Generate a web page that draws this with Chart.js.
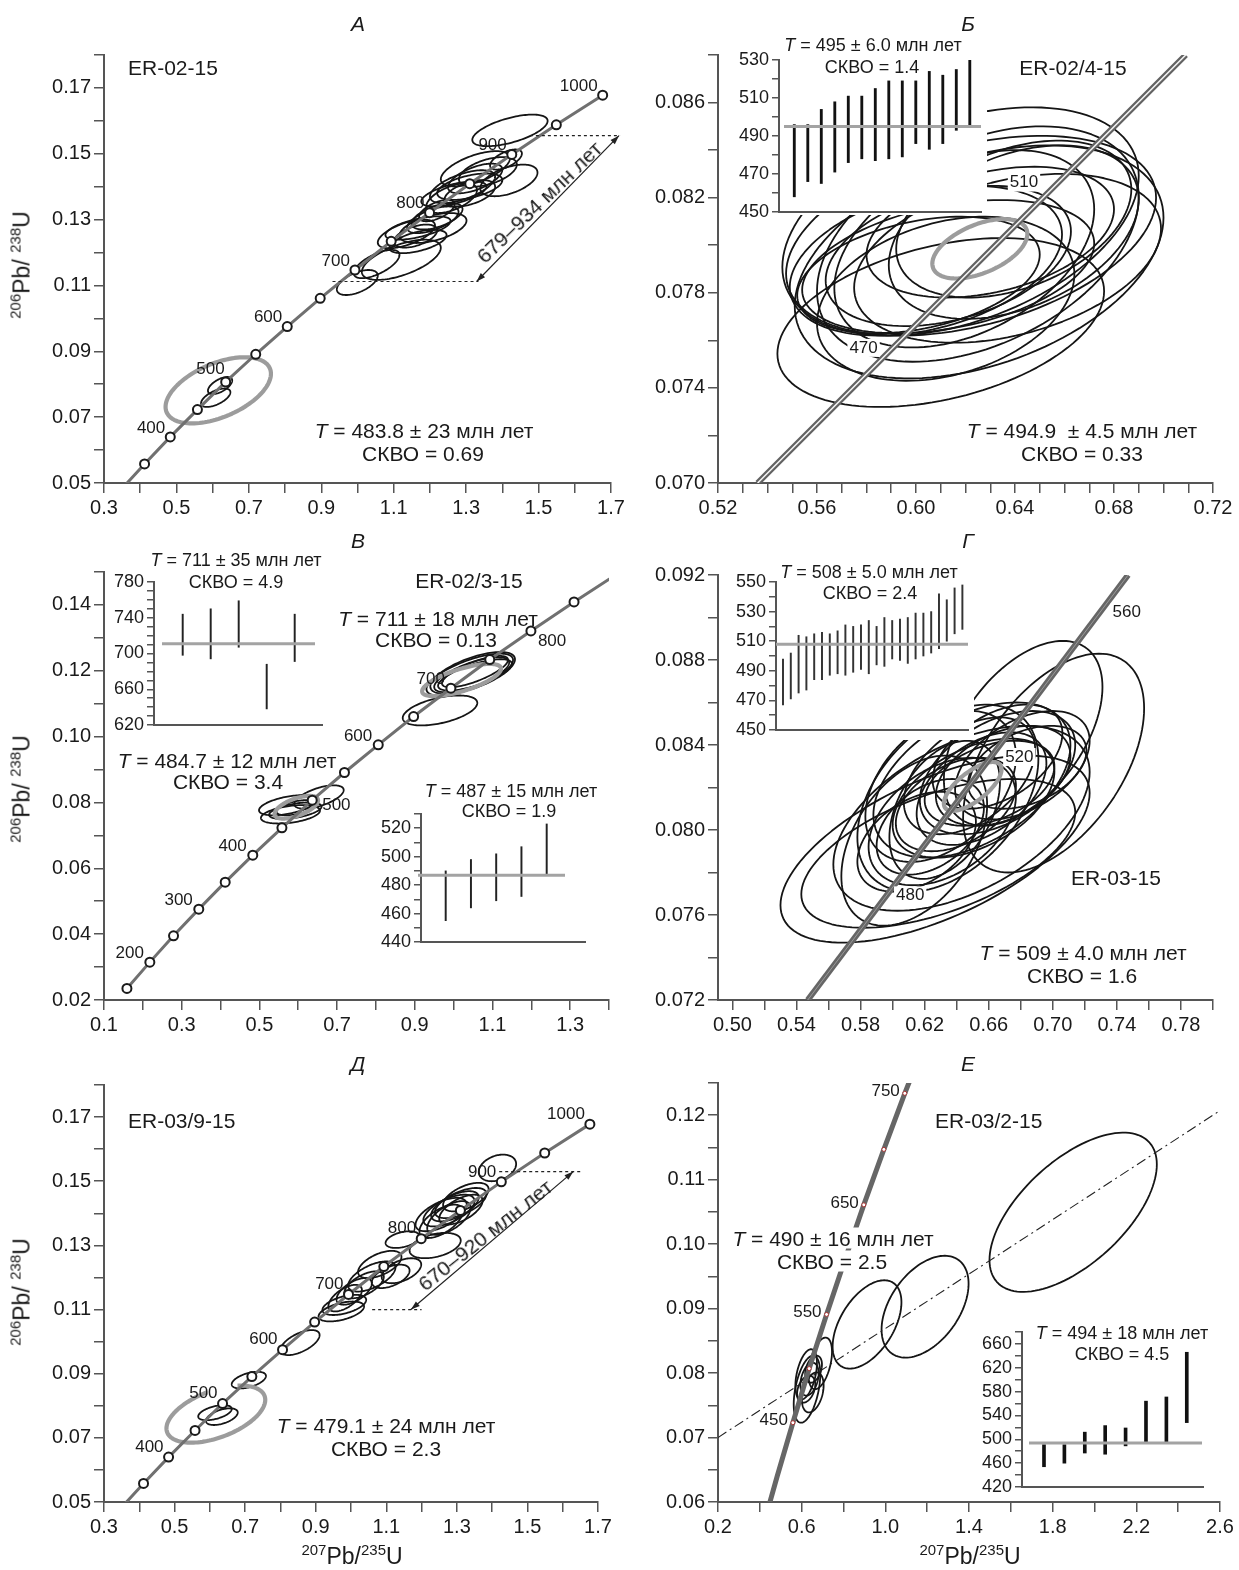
<!DOCTYPE html>
<html lang="ru">
<head>
<meta charset="utf-8">
<title>U-Pb concordia diagrams</title>
<script src="https://cdn.jsdelivr.net/npm/chart.js@4.4.1/dist/chart.umd.min.js"></script>
<style>
  html, body { margin: 0; padding: 0; background: #fff; }
  body { position: relative; width: 1239px; height: 1570px; overflow: hidden;
         font-family: "Liberation Sans", Arial, Helvetica, sans-serif; color: #1a1a1a; }
  canvas { position: absolute; }
  .lbl { position: absolute; white-space: pre; line-height: 1; font-size: 21px; z-index: 5;
         transform: translate(-50%, -50%); }
  .lbl.left { transform: translate(0, -50%); }
  .lbl.small { font-size: 18px; }
  .lbl.ttl { font-style: italic; font-size: 21px; }
  .lbl.bg { background: #fff; }
  .lbl.ax { font-size: 23px; }
  .lbl.ax sup { font-size: 15px; vertical-align: baseline; position: relative; top: -9px; }
</style>
</head>
<body>
<script>
// ---- concordia reference marks (age Ma, 207Pb/235U, 206Pb/238U) ----
const concAge = [150, 200, 250, 300, 350, 400, 450, 500, 550, 600, 650, 700, 750, 800, 850, 900, 950, 1000];
const concX = [0.159, 0.218, 0.279, 0.344, 0.412, 0.483, 0.558, 0.636, 0.719, 0.806, 0.897, 0.993, 1.093, 1.199, 1.310, 1.426, 1.549, 1.677];
const concY = [0.0235, 0.0315, 0.0395, 0.0476, 0.0558, 0.0640, 0.0723, 0.0807, 0.0891, 0.0975, 0.1061, 0.1147, 0.1234, 0.1321, 0.1409, 0.1498, 0.1588, 0.1678];
const fineAge = [470, 480, 510, 520, 560];
const fineX = [0.589, 0.604, 0.653, 0.669, 0.736];
const fineY = [0.0756, 0.0773, 0.0823, 0.0840, 0.0908];

// concordia segments as read on the zoomed plots B and G
const lineBX = [0.536, 0.709], lineBY = [0.070, 0.088];
const lineGX = [0.547, 0.747], lineGY = [0.072, 0.092];
// dash-dot discordia on plot E
const discEX = [0.2, 2.604], discEY = [0.070, 0.1208];

// labelled ages
const labA = [400, 500, 600, 700, 800, 900, 1000];
const labB = [470, 510];
const labV = [200, 300, 400, 500, 600, 700, 800];
const labG = [480, 520, 560];
const labD = [400, 500, 600, 700, 800, 900, 1000];
const labE = [450, 550, 650, 750];

// error ellipses: [x min, x max, y min, y max, correlation]
const ellA = [
  [0.943, 1.056, 0.1071, 0.1147, 0.55], [1.012, 1.230, 0.1117, 0.1239, 0.6], [0.990, 1.116, 0.1122, 0.1208, 0.65],
  [1.056, 1.214, 0.1213, 0.1300, 0.6], [1.116, 1.301, 0.1229, 0.1320, 0.5], [1.077, 1.257, 0.1239, 0.1310, 0.6],
  [1.088, 1.246, 0.1198, 0.1269, 0.55], [1.100, 1.220, 0.1215, 0.1285, 0.5], [1.137, 1.279, 0.1259, 0.1340, 0.6],
  [1.170, 1.268, 0.1295, 0.1360, 0.6], [1.176, 1.356, 0.1340, 0.1416, 0.6], [1.230, 1.421, 0.1401, 0.1508, 0.6],
  [1.339, 1.497, 0.1371, 0.1467, 0.5], [1.366, 1.454, 0.1452, 0.1513, 0.6], [1.317, 1.525, 0.1523, 0.1619, 0.6],
  [1.200, 1.380, 0.1350, 0.1450, 0.6], [1.220, 1.400, 0.1360, 0.1440, 0.5], [1.250, 1.400, 0.1380, 0.1470, 0.6],
  [1.190, 1.330, 0.1320, 0.1410, 0.55], [1.240, 1.380, 0.1340, 0.1420, 0.5], [1.280, 1.440, 0.1400, 0.1490, 0.5],
  [1.150, 1.290, 0.1270, 0.1350, 0.55], [0.587, 0.654, 0.0770, 0.0822, 0.6], [0.568, 0.649, 0.0731, 0.0787, 0.6]
];
const grayA = [[0.470, 0.761, 0.0681, 0.0882, 0.5]];

const ellB = [
  [0.544, 0.676, 0.0732, 0.0803, 0.37], [0.546, 0.690, 0.0762, 0.0858, 0.4], [0.5475, 0.697, 0.0762, 0.0846, 0.38],
  [0.551, 0.700, 0.0744, 0.0842, 0.38], [0.560, 0.690, 0.0751, 0.0850, 0.4], [0.567, 0.672, 0.0757, 0.0840, 0.4],
  [0.549, 0.659, 0.0762, 0.0825, 0.35], [0.554, 0.672, 0.0763, 0.0819, 0.35], [0.560, 0.664, 0.0743, 0.0812, 0.3],
  [0.589, 0.690, 0.0769, 0.0842, 0.38], [0.575, 0.699, 0.0759, 0.0830, 0.35], [0.580, 0.680, 0.0778, 0.0833, 0.35],
  [0.5635, 0.6626, 0.0766, 0.0825, 0.35], [0.592, 0.687, 0.0778, 0.0844, 0.38], [0.552, 0.650, 0.0763, 0.0812, 0.35]
];
const grayB = [[0.6066, 0.645, 0.0786, 0.0811, 0.5]];

const ellV = [
  [0.499, 0.646, 0.0761, 0.0822, 0.5], [0.504, 0.656, 0.0736, 0.0792, 0.4], [0.590, 0.717, 0.0781, 0.0852, 0.6],
  [0.544, 0.646, 0.0761, 0.0807, 0.5], [0.525, 0.660, 0.0750, 0.0800, 0.5], [0.869, 1.061, 0.1034, 0.1125, 0.5],
  [0.930, 1.153, 0.1125, 0.1252, 0.7], [0.950, 1.143, 0.1135, 0.1241, 0.7], [0.940, 1.158, 0.1130, 0.1257, 0.65],
  [0.960, 1.150, 0.1140, 0.1235, 0.7], [0.970, 1.140, 0.1150, 0.1245, 0.75]
];
const grayV = [[0.539, 0.651, 0.0751, 0.0820, 0.6], [0.919, 1.122, 0.1123, 0.1221, 0.7]];

const ellG = [
  [0.530, 0.723, 0.0747, 0.0835, 0.6], [0.543, 0.714, 0.0754, 0.0824, 0.55], [0.644, 0.757, 0.0780, 0.0883, 0.5],
  [0.632, 0.731, 0.0802, 0.0889, 0.5], [0.563, 0.723, 0.0762, 0.0849, 0.5], [0.578, 0.691, 0.0771, 0.0859, 0.42],
  [0.583, 0.677, 0.0785, 0.0856, 0.4], [0.588, 0.711, 0.0787, 0.0860, 0.45], [0.568, 0.659, 0.0755, 0.0835, 0.42],
  [0.600, 0.701, 0.0787, 0.0843, 0.45], [0.617, 0.714, 0.0798, 0.0856, 0.45], [0.627, 0.711, 0.0802, 0.0849, 0.4],
  [0.598, 0.667, 0.0777, 0.0842, 0.4], [0.602, 0.677, 0.0790, 0.0834, 0.4], [0.615, 0.696, 0.0793, 0.0846, 0.45],
  [0.578, 0.652, 0.0771, 0.0818, 0.4], [0.639, 0.723, 0.0805, 0.0856, 0.45], [0.625, 0.706, 0.0810, 0.0859, 0.45],
  [0.647, 0.721, 0.0810, 0.0849, 0.4], [0.590, 0.657, 0.0779, 0.0824, 0.4], [0.607, 0.689, 0.0798, 0.0853, 0.45],
  [0.620, 0.701, 0.0802, 0.0842, 0.4], [0.585, 0.677, 0.0774, 0.0834, 0.4]
];
const grayG = [[0.632, 0.668, 0.0809, 0.0832, 0.7]];

const ellD = [
  [0.567, 0.662, 0.0755, 0.0802, 0.5], [0.589, 0.679, 0.0740, 0.0792, 0.5], [0.662, 0.759, 0.0854, 0.0906, 0.5],
  [0.800, 0.911, 0.0958, 0.1036, 0.6], [0.908, 1.037, 0.1063, 0.1125, 0.5], [0.919, 1.043, 0.1083, 0.1146, 0.5],
  [0.936, 1.031, 0.1094, 0.1177, 0.6], [0.959, 1.059, 0.1115, 0.1198, 0.6], [0.981, 1.093, 0.1135, 0.1219, 0.6],
  [0.992, 1.126, 0.1156, 0.1250, 0.6], [1.020, 1.143, 0.1198, 0.1283, 0.55], [1.087, 1.199, 0.1182, 0.1260, 0.5],
  [1.059, 1.166, 0.1167, 0.1240, 0.5], [1.166, 1.311, 0.1260, 0.1339, 0.4], [1.098, 1.194, 0.1292, 0.1344, 0.4],
  [1.183, 1.328, 0.1344, 0.1448, 0.6], [1.205, 1.350, 0.1359, 0.1458, 0.6], [1.227, 1.362, 0.1375, 0.1469, 0.6],
  [1.238, 1.384, 0.1385, 0.1479, 0.6], [1.216, 1.339, 0.1333, 0.1438, 0.6], [1.250, 1.373, 0.1365, 0.1458, 0.6],
  [1.261, 1.390, 0.1406, 0.1495, 0.55], [1.194, 1.317, 0.1323, 0.1427, 0.6], [1.362, 1.468, 0.1500, 0.1583, 0.3]
];
const grayD = [[0.477, 0.757, 0.0685, 0.0863, 0.5]];

const ellE = [
  [1.498, 2.298, 0.0926, 0.1173, 0.6], [0.982, 1.398, 0.0824, 0.0982, 0.45], [0.748, 1.077, 0.0807, 0.0944, 0.5],
  [0.633, 0.745, 0.0775, 0.0855, 0.45], [0.562, 0.689, 0.0723, 0.0827, 0.45], [0.570, 0.673, 0.0759, 0.0837, 0.45],
  [0.601, 0.705, 0.0739, 0.0801, 0.35], [0.594, 0.681, 0.0765, 0.0816, 0.35], [0.578, 0.665, 0.0754, 0.0796, 0.35],
  [0.617, 0.697, 0.0785, 0.0827, 0.35]
];

// age-span brackets on A and D: dotted levels [x0, x1, y] and the arrow [x0, y0, x1, y1]
const guideA = [[0.931, 1.334, 0.1112], [1.476, 1.725, 0.1555]];
const arrowA = [1.329, 0.1112, 1.722, 0.1555];
const guideD = [[1.06, 1.20, 0.1100], [1.42, 1.655, 0.1530]];
const arrowD = [1.17, 0.1100, 1.63, 0.1530];

// weighted-mean insets: [low, high] ages per grain, Ma
const barsB = [[458, 496], [466, 496], [465, 504], [471, 508], [476, 511], [478, 511], [477, 515],
               [478, 519], [479, 519], [486, 519], [483, 524], [486, 522], [493, 525], [495, 530]];
const barsV1 = [[698, 744], [694, 750], [707, 759], [638, 688], [691, 744]];
const barsV2 = [[455, 490], [464, 498], [469, 502], [472, 507], [487, 523]];
const barsG = [[467, 498], [471, 502], [475, 514], [477, 513], [484, 515], [484, 516], [487, 515], [488, 517],
               [487, 521], [489, 520], [491, 521], [488, 524], [494, 520], [493, 526], [498, 524], [497, 525],
               [495, 526], [498, 529], [500, 529], [502, 530], [505, 542], [510, 538], [515, 546], [518, 548]];
const barsE = [[454, 491], [460, 491], [477, 512], [475, 523], [489, 519], [496, 564], [495, 571], [528, 646]];
const meanB = 495, meanV1 = 711, meanV2 = 487, meanG = 508, meanE = 494;

// ---------------------------------------------------------------
const FONT = '"Liberation Sans", Arial, Helvetica, sans-serif';
Chart.defaults.font.family = FONT;
Chart.defaults.color = '#1a1a1a';

function pts(xs, ys) { return xs.map((v, i) => ({ x: v, y: ys[i] })); }

function axis(min, max, tStart, tStep, lStart, lStep, dec, size, tickLen) {
  const vals = [];
  for (let i = 0; ; i++) {
    const v = +(tStart + i * tStep).toFixed(6);
    if (v > max + 1e-9) break;
    vals.push(v);
  }
  return {
    type: 'linear', min, max, offset: false,
    afterBuildTicks: s => { s.ticks = vals.map(v => ({ value: v })); },
    ticks: {
      autoSkip: false, maxRotation: 0, minRotation: 0, padding: 3, color: '#1a1a1a', font: { size },
      callback: v => {
        const k = (v - lStart) / lStep;
        return Math.abs(k - Math.round(k)) < 1e-6 ? v.toFixed(dec) : '';
      }
    },
    grid: { drawOnChartArea: false, drawTicks: true, tickLength: tickLen, color: '#555', lineWidth: 1.5 },
    border: { display: true, color: '#555', width: 2 }
  };
}

function addCanvas(l, t, r, b) {
  const cv = document.createElement('canvas');
  cv.width = r - l; cv.height = b - t;
  cv.style.left = l + 'px'; cv.style.top = t + 'px';
  cv.style.width = (r - l) + 'px'; cv.style.height = (b - t) + 'px';
  document.body.appendChild(cv);
  return cv;
}

function ellipse(ctx, sx, sy, e, arc) {
  const [x0, x1, y0, y1, r] = e;
  const cx = (x0 + x1) / 2, cy = (y0 + y1) / 2, ax = (x1 - x0) / 2, ay = (y1 - y0) / 2;
  const q = Math.sqrt(1 - r * r);
  const a = arc ? arc[0] : 0, b = arc ? arc[1] : 2 * Math.PI;
  ctx.beginPath();
  for (let i = 0; i <= 120; i++) {
    const t = a + (b - a) * i / 120;
    const px = sx.getPixelForValue(cx + ax * Math.cos(t));
    const py = sy.getPixelForValue(cy + ay * (r * Math.cos(t) + q * Math.sin(t)));
    if (i) ctx.lineTo(px, py); else ctx.moveTo(px, py);
  }
  if (!arc) ctx.closePath();
  ctx.stroke();
}

function head(ctx, x, y, ang) {
  ctx.beginPath();
  ctx.moveTo(x, y);
  ctx.lineTo(x - 9 * Math.cos(ang) + 3 * Math.sin(ang), y - 9 * Math.sin(ang) - 3 * Math.cos(ang));
  ctx.lineTo(x - 9 * Math.cos(ang) - 3 * Math.sin(ang), y - 9 * Math.sin(ang) + 3 * Math.cos(ang));
  ctx.closePath();
  ctx.fill();
}

function overlay(p) {
  return {
    id: 'overlay',
    beforeDatasetsDraw(chart) {
      const { ctx, chartArea: a, scales: { x, y } } = chart;
      ctx.save();
      ctx.beginPath(); ctx.rect(a.left, a.top, a.right - a.left, a.bottom - a.top); ctx.clip();
      ctx.lineJoin = 'round';
      ctx.strokeStyle = '#151515'; ctx.lineWidth = 1.8;
      (p.ell || []).forEach(e => ellipse(ctx, x, y, e));
      ctx.strokeStyle = '#9c9c9c'; ctx.lineWidth = 4.2;
      (p.gray || []).forEach(e => ellipse(ctx, x, y, e, p.grayArc));
      ctx.restore();
    },
    afterDatasetsDraw(chart) {
      const { ctx, scales: { x, y } } = chart;
      ctx.save();
      if (p.guides) {
        ctx.strokeStyle = '#222'; ctx.lineWidth = 1.2; ctx.setLineDash([3, 3]);
        p.guides.forEach(([x0, x1, yy]) => {
          ctx.beginPath();
          ctx.moveTo(x.getPixelForValue(x0), y.getPixelForValue(yy));
          ctx.lineTo(x.getPixelForValue(x1), y.getPixelForValue(yy));
          ctx.stroke();
        });
        ctx.setLineDash([]);
      }
      if (p.arrow) {
        const [ax0, ay0, ax1, ay1] = p.arrow;
        const X0 = x.getPixelForValue(ax0), Y0 = y.getPixelForValue(ay0);
        const X1 = x.getPixelForValue(ax1), Y1 = y.getPixelForValue(ay1);
        const ang = Math.atan2(Y1 - Y0, X1 - X0);
        ctx.strokeStyle = '#222'; ctx.fillStyle = '#222'; ctx.lineWidth = 1.2;
        ctx.beginPath(); ctx.moveTo(X0, Y0); ctx.lineTo(X1, Y1); ctx.stroke();
        head(ctx, X1, Y1, ang); head(ctx, X0, Y0, ang + Math.PI);
      }
      if (p.labels) {
        ctx.font = '17px ' + FONT;
        ctx.textBaseline = 'middle';
        p.labels.forEach(age => {
          const k = p.srcAge.indexOf(age);
          const px = x.getPixelForValue(p.srcX[k]), py = y.getPixelForValue(p.srcY[k]);
          const [dx, dy, al] = p.labOff[age] || p.labOff.def;
          const tx = px + dx, ty = py + dy, txt = String(age);
          const w = ctx.measureText(txt).width;
          if (p.labBox) {
            ctx.fillStyle = '#fff';
            ctx.fillRect(al === 'right' ? tx - w - 2 : tx - 2, ty - 9, w + 4, 18);
          }
          ctx.fillStyle = '#1a1a1a'; ctx.textAlign = al;
          ctx.fillText(txt, tx, ty);
        });
      }
      ctx.restore();
    }
  };
}

function panel(p) {
  const [L, R, T, B] = p.area;
  const bl = Math.max(0, L - 100), bt = T - 30, br = Math.min(1239, R + 34), bb = B + 47;
  const cv = addCanvas(bl, bt, br, bb);
  const ds = [];
  if (p.marks) ds.push({ data: p.marks, pointRadius: p.markR, pointBackgroundColor: '#fff',
                         pointBorderColor: p.markC, pointBorderWidth: p.markW, order: 0 });
  if (p.core) ds.push({ data: p.line, showLine: true, borderColor: p.core[0], borderWidth: p.core[1], pointRadius: 0, order: 1 });
  ds.push({ data: p.line, showLine: true, borderColor: p.lineC, borderWidth: p.lineW, pointRadius: 0, order: 2 });
  if (p.dash) ds.push({ data: p.dash, showLine: true, borderColor: '#222', borderWidth: 1.1,
                        borderDash: [10, 4, 2, 4], pointRadius: 0, order: 3 });
  const xs = Object.assign(p.x, { afterFit: s => { s.height = 40; } });
  const ys = Object.assign(p.y, { afterFit: s => { s.width = 70; } });
  new Chart(cv, {
    type: 'scatter',
    data: { datasets: ds },
    options: {
      responsive: false, animation: false, devicePixelRatio: 1, events: [],
      layout: { padding: { left: L - bl - 70, right: br - R, top: T - bt, bottom: bb - B - 40 } },
      scales: { x: xs, y: ys },
      plugins: { legend: { display: false }, tooltip: { enabled: false } }
    },
    plugins: [overlay(p)]
  });
}

function inset(q) {
  const [L, R, T, B] = q.area;
  const bl = L - 48, bt = T - 16, br = R + 6, bb = B + 16;
  const cv = addCanvas(bl, bt, br, bb);
  const ys = Object.assign(q.y, { afterFit: s => { s.width = 43; } });
  new Chart(cv, {
    type: 'bar',
    data: { datasets: [{ data: q.bars.map((b, i) => ({ x: i + 1, y: b })), backgroundColor: q.color,
                         barThickness: q.bw, borderWidth: 0 }] },
    options: {
      responsive: false, animation: false, devicePixelRatio: 1, events: [],
      layout: { padding: { left: 5, right: 6, top: 16, bottom: 16 } },
      scales: {
        x: { type: 'linear', min: q.xr[0], max: q.xr[1], offset: false, ticks: { display: false },
             grid: { display: false }, border: { display: true, color: '#555', width: 2 },
             afterFit: s => { s.height = 0; } },
        y: ys
      },
      plugins: { legend: { display: false }, tooltip: { enabled: false } }
    },
    plugins: [{
      id: 'insetDeco',
      beforeDraw(chart) {
        if (!q.white) return;
        const c = chart.ctx;
        c.save(); c.fillStyle = '#fff';
        c.fillRect(q.white[0] - bl, q.white[1] - bt, q.white[2] - q.white[0], q.white[3] - q.white[1]);
        c.restore();
      },
      afterDatasetsDraw(chart) {
        const c = chart.ctx, yy = chart.scales.y.getPixelForValue(q.mean);
        c.save(); c.strokeStyle = '#a3a3a3'; c.lineWidth = 3;
        c.beginPath(); c.moveTo(q.line[0] - bl, yy); c.lineTo(q.line[1] - bl, yy); c.stroke();
        c.restore();
      }
    }]
  });
}

const concPts = pts(concX, concY);
const within = (lo, hi) => concPts.filter((_, i) => concAge[i] >= lo && concAge[i] <= hi);

// ---- main concordia panels ----
panel({ area: [104, 611, 55, 483],
  x: axis(0.3, 1.7, 0.3, 0.1, 0.3, 0.2, 1, 20, 10), y: axis(0.05, 0.18, 0.05, 0.01, 0.05, 0.02, 2, 20, 10),
  line: concPts, lineC: '#707070', lineW: 3, marks: within(350, 1000), markR: 4.5, markC: '#1a1a1a', markW: 2,
  ell: ellA, gray: grayA, guides: guideA, arrow: arrowA,
  labels: labA, srcAge: concAge, srcX: concX, srcY: concY, labOff: { def: [-5, -9, 'right'], 500: [-1, -13, 'right'] } });

panel({ area: [718, 1213, 55, 483],
  x: axis(0.52, 0.72, 0.52, 0.01, 0.52, 0.04, 2, 20, 10), y: axis(0.070, 0.088, 0.070, 0.002, 0.070, 0.004, 3, 20, 10),
  line: pts(lineBX, lineBY), lineC: '#626262', lineW: 6, core: ['#f2f2f2', 1.6],
  ell: ellB, gray: grayB,
  labels: labB, srcAge: fineAge, srcX: fineX, srcY: fineY, labBox: true,
  labOff: { def: [-8, -6, 'right'], 470: [-11, -2, 'right'], 510: [-9, -8, 'right'] } });

panel({ area: [104, 609, 572, 1000],
  x: axis(0.1, 1.4, 0.1, 0.1, 0.1, 0.2, 1, 20, 10), y: axis(0.02, 0.15, 0.02, 0.01, 0.02, 0.02, 2, 20, 10),
  line: concPts, lineC: '#707070', lineW: 3, marks: within(150, 850), markR: 4.5, markC: '#1a1a1a', markW: 2,
  ell: ellV, gray: grayV,
  labels: labV, srcAge: concAge, srcX: concX, srcY: concY,
  labOff: { def: [-6, -9, 'right'], 500: [10, 5, 'left'], 800: [7, 10, 'left'] } });

panel({ area: [718, 1213, 575, 1000],
  x: axis(0.491, 0.80, 0.50, 0.02, 0.50, 0.04, 2, 20, 10), y: axis(0.072, 0.092, 0.072, 0.002, 0.072, 0.004, 3, 20, 10),
  line: pts(lineGX, lineGY), lineC: '#666', lineW: 6, core: ['#9a9a9a', 1],
  ell: ellG, gray: grayG,
  labels: labG, srcAge: fineAge, srcX: fineX, srcY: fineY, labBox: true,
  labOff: { def: [2, 12, 'left'], 480: [-3, 8, 'left'], 520: [2, 12, 'left'], 560: [2, 12, 'left'] } });

panel({ area: [104, 598, 1085, 1502],
  x: axis(0.3, 1.7, 0.3, 0.1, 0.3, 0.2, 1, 20, 10), y: axis(0.05, 0.18, 0.05, 0.01, 0.05, 0.02, 2, 20, 10),
  line: concPts, lineC: '#707070', lineW: 3, marks: within(350, 1000), markR: 4.5, markC: '#1a1a1a', markW: 2,
  ell: ellD, gray: grayD, grayArc: [1.75, 7.40], guides: guideD, arrow: arrowD,
  labels: labD, srcAge: concAge, srcX: concX, srcY: concY, labOff: { def: [-5, -10, 'right'] } });

panel({ area: [718, 1220, 1083, 1502],
  x: axis(0.2, 2.6, 0.2, 0.2, 0.2, 0.4, 1, 20, 10), y: axis(0.06, 0.125, 0.06, 0.005, 0.06, 0.01, 2, 20, 10),
  line: concPts, lineC: '#666', lineW: 5, marks: within(450, 750), markR: 2, markC: '#a33', markW: 1,
  dash: pts(discEX, discEY), ell: ellE,
  labels: labE, srcAge: concAge, srcX: concX, srcY: concY, labOff: { def: [-5, -2, 'right'] } });

// ---- weighted-mean insets ----
inset({ area: [779, 981, 60, 212], xr: [-0.133, 14.83], bars: barsB, mean: meanB, color: '#111', bw: 2.2,
  y: axis(450, 530, 450, 10, 450, 20, 0, 18, 7), line: [784, 981], white: [730, 28, 988, 215] });
inset({ area: [154, 322, 582, 725], xr: [-0.025, 5.975], bars: barsV1, mean: meanV1, color: '#222', bw: 1.3,
  y: axis(620, 780, 620, 10, 620, 40, 0, 18, 7), line: [162, 315] });
inset({ area: [421, 585, 814, 942], xr: [0.022, 6.517], bars: barsV2, mean: meanV2, color: '#222', bw: 1.3,
  y: axis(440, 530, 440, 10, 440, 20, 0, 18, 7), line: [418, 565] });
inset({ area: [776, 968, 582, 730], xr: [0.103, 24.72], bars: barsG, mean: meanG, color: '#333', bw: 1.3,
  y: axis(450, 550, 450, 10, 450, 20, 0, 18, 7), line: [776, 968], white: [730, 560, 976, 740] });
inset({ area: [1022, 1203, 1332, 1487], xr: [-0.078, 8.795], bars: barsE, mean: meanE, color: '#111', bw: 3,
  y: axis(420, 680, 420, 20, 420, 40, 0, 18, 7), line: [1029, 1202] });

// ---- text annotations ----
const T = '<i>T</i>';
const notes = [
  [358, 23, 'А', 'ttl'], [968, 23, 'Б', 'ttl'], [358, 540, 'В', 'ttl'],
  [968, 540, 'Г', 'ttl'], [358, 1063, 'Д', 'ttl'], [968, 1063, 'Е', 'ttl'],
  [128, 67, 'ER-02-15', 'left'], [1073, 67, 'ER-02/4-15', ''], [469, 580, 'ER-02/3-15', ''],
  [1116, 877, 'ER-03-15', ''], [128, 1120, 'ER-03/9-15', 'left'], [935, 1120, 'ER-03/2-15', 'left'],
  [424, 430, T + ' = 483.8 ± 23 млн лет', ''], [423, 453, 'СКВО = 0.69', ''],
  [873, 45, T + ' = 495 ± 6.0 млн лет', 'small'], [872, 67, 'СКВО = 1.4', 'small'],
  [1082, 430, T + ' = 494.9  ± 4.5 млн лет', ''], [1082, 453, 'СКВО = 0.33', ''],
  [236, 560, T + ' = 711 ± 35 млн лет', 'small'], [236, 582, 'СКВО = 4.9', 'small'],
  [438, 618, T + ' = 711 ± 18 млн лет', ''], [436, 639, 'СКВО = 0.13', ''],
  [227, 760, T + ' = 484.7 ± 12 млн лет', ''], [228, 781, 'СКВО = 3.4', ''],
  [511, 791, T + ' = 487 ± 15 млн лет', 'small'], [509, 811, 'СКВО = 1.9', 'small'],
  [869, 572, T + ' = 508 ± 5.0 млн лет', 'small'], [870, 593, 'СКВО = 2.4', 'small'],
  [1083, 952, T + ' = 509 ± 4.0 млн лет', ''], [1082, 975, 'СКВО = 1.6', ''],
  [386, 1425, T + ' = 479.1 ± 24 млн лет', ''], [386, 1448, 'СКВО = 2.3', ''],
  [833, 1238, T + ' = 490 ± 16 млн лет', 'bg'], [832, 1261, 'СКВО = 2.5', 'bg'],
  [1122, 1333, T + ' = 494 ± 18 млн лет', 'small'], [1122, 1354, 'СКВО = 4.5', 'small'],
  [539, 202, '679–934 млн лет', '', -44], [485, 1235, '670–920 млн лет', '', -38.5],
  [22, 265, '<sup>206</sup>Pb/ <sup>238</sup>U', 'ax', -90], [22, 789, '<sup>206</sup>Pb/ <sup>238</sup>U', 'ax', -90],
  [22, 1292, '<sup>206</sup>Pb/ <sup>238</sup>U', 'ax', -90],
  [352, 1556, '<sup>207</sup>Pb/<sup>235</sup>U', 'ax'], [970, 1556, '<sup>207</sup>Pb/<sup>235</sup>U', 'ax']
];
notes.forEach(([x, y, html, cls, rot]) => {
  const d = document.createElement('div');
  d.className = 'lbl ' + cls;
  d.innerHTML = html;
  d.style.left = x + 'px';
  d.style.top = y + 'px';
  if (rot) d.style.transform = 'translate(-50%, -50%) rotate(' + rot + 'deg)';
  document.body.appendChild(d);
});
</script>
</body>
</html>
